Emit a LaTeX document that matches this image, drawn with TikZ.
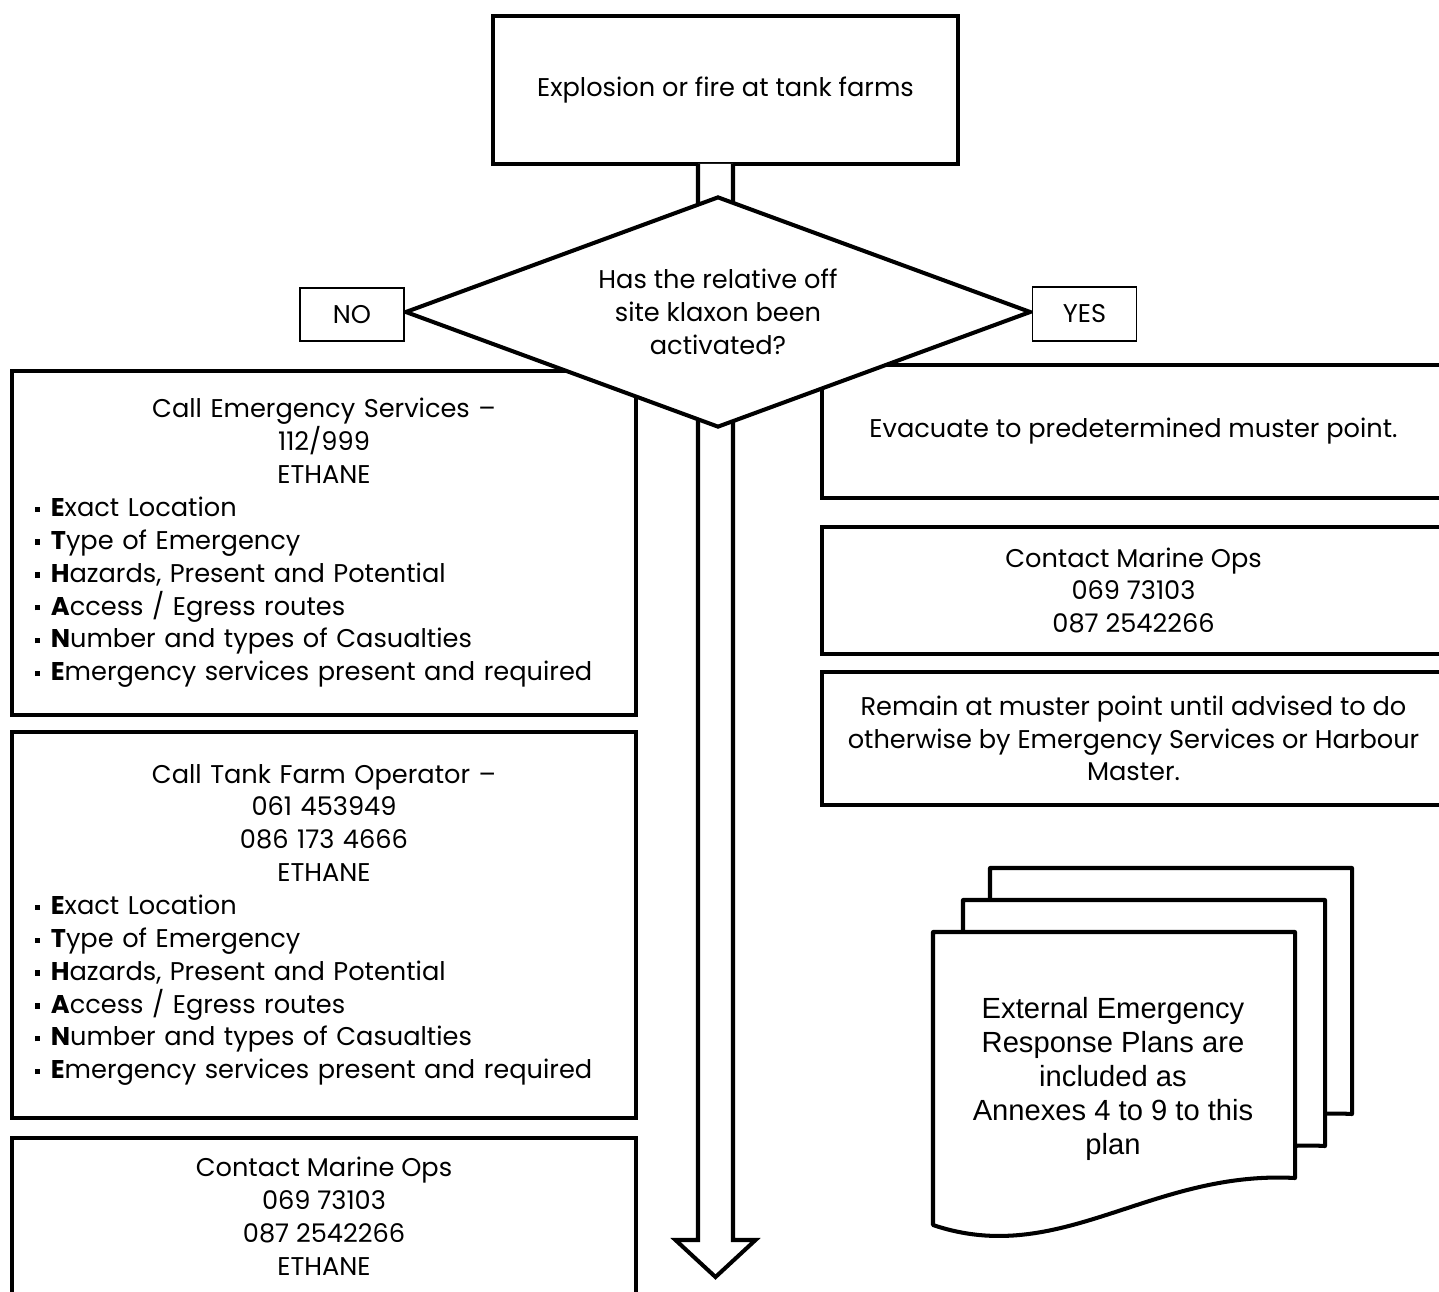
\documentclass[tikz,border=0pt]{standalone}
\usepackage{fontspec}
\setmainfont{Poppins}
\newfontfamily\arialfont{Liberation Sans}
\usetikzlibrary{positioning,shapes.geometric,calc}
\newcommand{\sqb}{\rule[2.6pt]{3pt}{3pt}\hspace{6pt}}

\begin{document}
\begin{tikzpicture}[x=0.02cm,y=-0.02cm,
	every node/.style={font=\fontsize{14.6}{18.7}\selectfont},
	box/.style={draw=black,line width=2.3pt,fill=white,align=center,inner sep=0pt,outer sep=0pt},
	listbox/.style={box,align=left,minimum width=12.48cm,text width=11.56cm,inner xsep=0.46cm},
	answer/.style={draw=black,line width=0.9pt,fill=white,minimum width=2.08cm,minimum height=1.07cm,inner sep=0pt},
	decide/.style={diamond,aspect=2.7,draw=black,line width=2.3pt,fill=white,inner sep=0pt,align=center},
	shaft/.style={draw=black,line width=2.3pt,fill=white},
	page/.style={draw=black,line width=2.3pt,fill=white,line join=round},
	node distance=0.34cm]
	\useasboundingbox (0,0) rectangle (1439,1291);

	\node[box,minimum width=9.3cm,minimum height=2.96cm]	(fire)	at (725.5,90)	{Explosion or fire at tank farms};
	\coordinate	(tip)	at (715.5,1277);
	\draw[shaft] ($(fire.south -| tip)+(-17.5,0)$) -- ($(tip)+(-17.5,-37)$) -- ($(tip)+(-40,-37)$) -- (tip)
		-- ($(tip)+(40,-37)$) -- ($(tip)+(17.5,-37)$) -- ($(fire.south -| tip)+(17.5,0)$);

	\node[listbox,minimum height=6.88cm]	(callES)	at (324,543)	{{\centering Call Emergency Services –\\112/999\\ETHANE\par}
		\sqb\textbf{E}xact Location\\
		\sqb\textbf{T}ype of Emergency\\
		\sqb\textbf{H}azards, Present and Potential\\
		\sqb\textbf{A}ccess / Egress routes\\
		\sqb\textbf{N}umber and types of Casualties\\
		\sqb\textbf{E}mergency services present and required};
	\node[listbox,minimum height=7.72cm]	(callTF)	[below=of callES]	{{\centering Call Tank Farm Operator –\\061 453949\\086 173 4666\\ETHANE\par}
		\sqb\textbf{E}xact Location\\
		\sqb\textbf{T}ype of Emergency\\
		\sqb\textbf{H}azards, Present and Potential\\
		\sqb\textbf{A}ccess / Egress routes\\
		\sqb\textbf{N}umber and types of Casualties\\
		\sqb\textbf{E}mergency services present and required};
	\node[box,minimum width=12.48cm,minimum height=3.14cm]	(marineL)	[below=0.4cm of callTF]	{Contact Marine Ops\\069 73103\\087 2542266\\ETHANE};

	\node[box,minimum width=12.46cm,minimum height=2.66cm]	(evac)	at (1133.5,431.5)	{Evacuate to predetermined muster point.};
	\node[box,minimum width=12.46cm,minimum height=2.54cm]	(marineR)	[below=0.58cm of evac]	{Contact Marine Ops\\069 73103\\087 2542266};
	\node[box,minimum width=12.46cm,minimum height=2.66cm]	(remain)	[below=0.36cm of marineR]	{Remain at muster point until advised to do\\otherwise by Emergency Services or Harbour\\Master.};

	\node[decide,minimum width=12.52cm,minimum height=4.62cm]	(klaxon)	at (718,312)	{Has the relative off\\site klaxon been\\activated?};
	\node[answer]	(no)	at (352,314.5)	{NO};
	\node[answer]	(yes)	at (1084.5,314)	{YES};

	\foreach \dx/\dy in {57/-64,30/-32,0/0}
		\draw[page,shift={(\dx,\dy)}] (933,932) -- (1295,932) -- (1295,1178) .. controls (1150,1170) and (1060,1268) .. (933,1225) -- cycle;
	\node[font=\arialfont\fontsize{16.6}{19.3}\selectfont,align=center]	(plans)	at (1113,1079)	{External Emergency\\Response Plans are\\included as\\Annexes 4 to 9 to this\\plan};
\end{tikzpicture}
\end{document}
